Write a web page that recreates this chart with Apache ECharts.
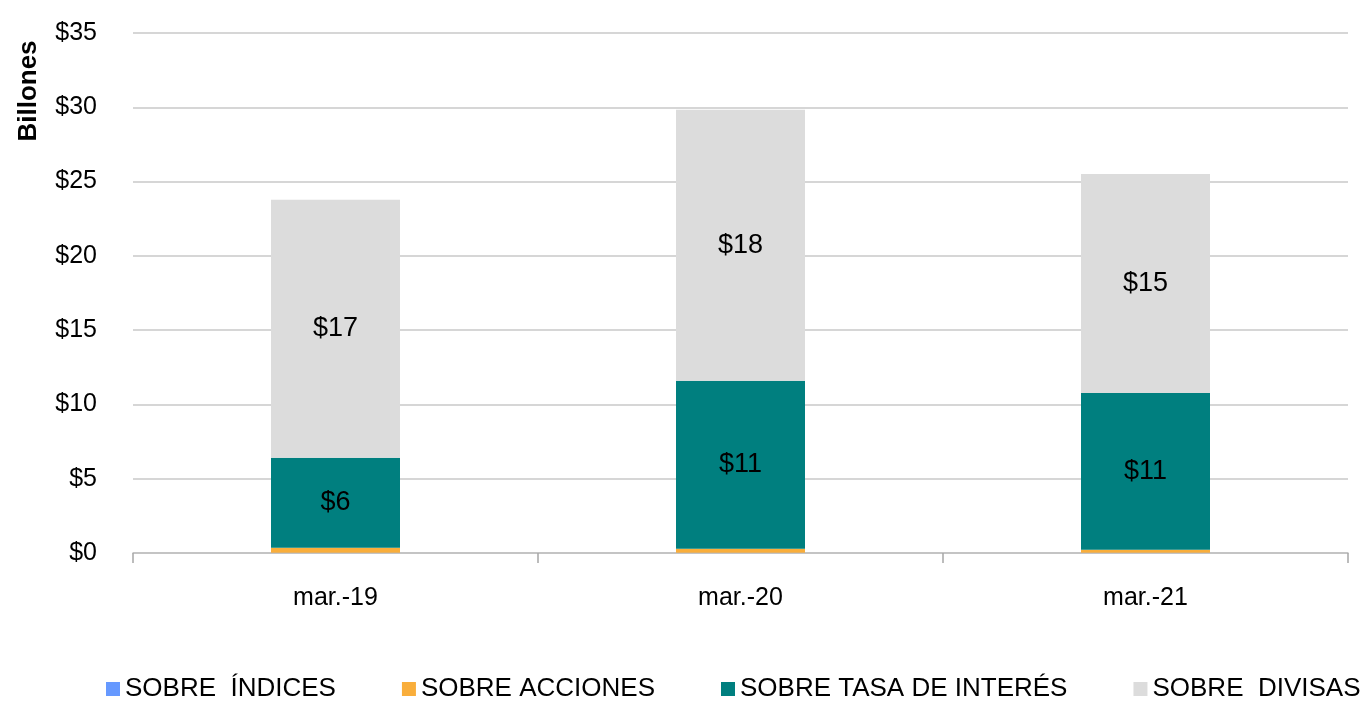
<!DOCTYPE html>
<html>
<head>
    <meta charset="UTF-8">
    <title>Derivados por tipo de subyacente</title>
    <script src="https://cdn.jsdelivr.net/npm/echarts@6/dist/echarts.min.js"></script>
    <style>
        html, body { margin: 0; padding: 0; background: #fff; }
    </style>
</head>
<body>
<div id="chart" style="width:1370px; height:701px;"></div>
<script>
    // datos (billones)
    var categorias = ['mar.-19', 'mar.-20', 'mar.-21'];
    var sobreIndices = [0.02, 0.02, 0.02];
    var sobreAcciones = [0.34, 0.27, 0.2];
    var sobreTasa = [6.05, 11.3, 10.55];
    var sobreDivisas = [17.37, 18.24, 14.74];
    var ticksY = [0, 5, 10, 15, 20, 25, 30, 35];

    var fuente = '"Liberation Sans Narrow", "Arial Narrow", "Liberation Sans", sans-serif';
    var chart = echarts.init(document.getElementById('chart'), null, {renderer: 'canvas'});

    var etiqueta = {
        show: true,
        position: 'inside',
        color: '#000',
        fontFamily: fuente,
        fontSize: 27,
        formatter: function (p) { return '$' + Math.round(p.value); }
    };

    function serie(nombre, datos, color, conEtiqueta) {
        return {
            name: nombre,
            type: 'bar',
            stack: 'total',
            barWidth: 129,
            data: datos,
            itemStyle: {color: color},
            label: conEtiqueta ? etiqueta : {show: false},
            emphasis: {disabled: true}
        };
    }

    var option = {
        animation: false,
        textStyle: {fontFamily: fuente},
        grid: {left: 133, right: 22, top: 33, bottom: 148},
        legend: {
            top: 671,
            left: 101,
            right: 0,
            itemWidth: 14,
            itemHeight: 14,
            itemGap: 66,
            icon: 'rect',
            textStyle: {fontFamily: fuente, fontSize: 26, color: '#000'},
            data: ['SOBRE  ÍNDICES', 'SOBRE ACCIONES', 'SOBRE TASA DE INTERÉS', 'SOBRE  DIVISAS']
        },
        graphic: [{
            type: 'text',
            x: 29,
            y: 91,
            rotation: Math.PI / 2,
            style: {
                text: 'Billones',
                font: 'bold 26px ' + fuente,
                fill: '#000',
                align: 'center',
                verticalAlign: 'middle'
            }
        }],
        xAxis: {
            type: 'category',
            data: categorias,
            axisLine: {lineStyle: {color: '#bfbfbf', width: 1.5}},
            axisTick: {show: true, length: 10, lineStyle: {color: '#a6a6a6', width: 1.5}},
            axisLabel: {color: '#000', fontSize: 25, fontFamily: fuente, margin: 33}
        },
        yAxis: {
            type: 'value',
            min: ticksY[0],
            max: ticksY[ticksY.length - 1],
            interval: 5,
            axisLine: {show: false},
            axisTick: {show: false},
            axisLabel: {
                color: '#000',
                fontSize: 25,
                fontFamily: fuente,
                margin: 36,
                formatter: function (v) { return '$' + v; }
            },
            splitLine: {lineStyle: {color: '#c8c8c8', width: 1.5}}
        },
        series: [
            serie('SOBRE  ÍNDICES', sobreIndices, '#6699ff', false),
            serie('SOBRE ACCIONES', sobreAcciones, '#f9ae3b', false),
            serie('SOBRE TASA DE INTERÉS', sobreTasa, '#007f7f', true),
            serie('SOBRE  DIVISAS', sobreDivisas, '#dcdcdc', true)
        ]
    };
    chart.setOption(option);
</script>
</body>
</html>
